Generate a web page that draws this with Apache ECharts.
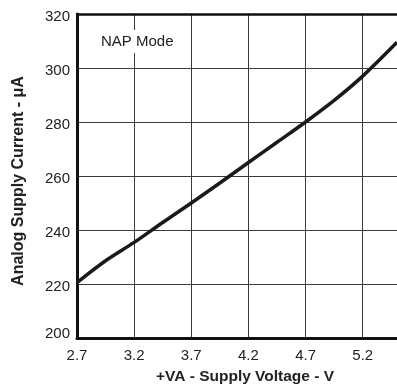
<!DOCTYPE html>
<html>
<head>
<meta charset="utf-8">
<script src="https://cdn.jsdelivr.net/npm/echarts@6/dist/echarts.min.js"></script>
<style>
html,body{margin:0;padding:0;background:#fff;}
#chart{width:397px;height:385px;}
</style>
</head>
<body>
<div id="chart"></div>
<script>
// Data
var voltage = [2.7, 2.95, 3.2, 3.45, 3.7, 3.95, 4.2, 4.45, 4.7, 4.95, 5.2, 5.5];
var current = [220.5, 228.6, 235.4, 242.8, 250, 257.4, 265, 272.5, 280, 288, 297, 309.5];
var xTickLabels = ['2.7', '3.2', '3.7', '4.2', '4.7', '5.2'];
var yTickLabels = ['200', '220', '240', '260', '280', '300', '320'];
var xTitle = '+VA - Supply Voltage - V';
var yTitle = 'Analog Supply Current - \u03bcA';
var annotation = 'NAP Mode';

var FONT = '"Liberation Sans", Arial, Helvetica, sans-serif';
var seriesData = voltage.map(function (v, i) { return [v, current[i]]; });

var chart = echarts.init(document.getElementById('chart'), null, {renderer: 'canvas'});
chart.setOption({
  animation: false,
  backgroundColor: '#fff',
  grid: {left: 77, top: 14, width: 324.5, height: 324, show: false},
  xAxis: [{
    type: 'value', min: 2.7, max: 5.5, interval: 0.5,
    axisLine: {show: true, onZero: false, lineStyle: {color: '#111', width: 3}},
    axisTick: {show: false},
    splitLine: {show: true, lineStyle: {color: '#3a3a3a', width: 1}},
    axisLabel: {
      showMaxLabel: false, color: '#222', fontSize: 15, fontFamily: FONT, margin: 10,
      formatter: function (v) {
        var s = (Math.round(v * 10) / 10).toFixed(1);
        return xTickLabels.indexOf(s) >= 0 ? s : '';
      }
    }
  }, {
    type: 'value', position: 'top', min: 2.7, max: 5.5,
    axisLine: {show: true, onZero: false, lineStyle: {color: '#111', width: 2.5}},
    axisTick: {show: false}, axisLabel: {show: false}, splitLine: {show: false}
  }],
  yAxis: {
    type: 'value', min: 200, max: 320, interval: 20,
    axisLine: {show: true, onZero: false, lineStyle: {color: '#111', width: 3}},
    axisTick: {show: false},
    splitLine: {show: true, lineStyle: {color: '#3a3a3a', width: 1}},
    axisLabel: {
      color: '#222', fontSize: 15, fontFamily: FONT, margin: 7,
      formatter: function (v) {
        var s = String(Math.round(v));
        if (yTickLabels.indexOf(s) < 0) return '';
        return s === '200' ? '{lo|' + s + '}' : '{up|' + s + '}';
      },
      rich: {
        up: {fontSize: 15, fontFamily: FONT, color: '#222', padding: [6, 0, 0, 0]},
        lo: {fontSize: 15, fontFamily: FONT, color: '#222', padding: [0, 0, 9, 0]}
      }
    }
  },
  series: [{
    type: 'line', data: seriesData, smooth: 0.35, showSymbol: false,
    lineStyle: {color: '#1a1a1a', width: 3.5}, z: 3
  }],
  graphic: [
    {type: 'text', left: 100, top: 30, z: 10,
     style: {text: annotation, fill: '#222', font: '15px ' + FONT,
             backgroundColor: '#fff', padding: [4, 1]}},
    {type: 'text', x: 245, y: 377, z: 10,
     style: {text: xTitle, fill: '#222', font: 'bold 15.5px ' + FONT,
             textAlign: 'center', textVerticalAlign: 'middle'}},
    {type: 'text', x: 19, y: 181, rotation: Math.PI / 2, z: 10,
     style: {text: yTitle, fill: '#222', font: 'bold 16px ' + FONT,
             textAlign: 'center', textVerticalAlign: 'middle'}}
  ]
});
</script>
</body>
</html>
